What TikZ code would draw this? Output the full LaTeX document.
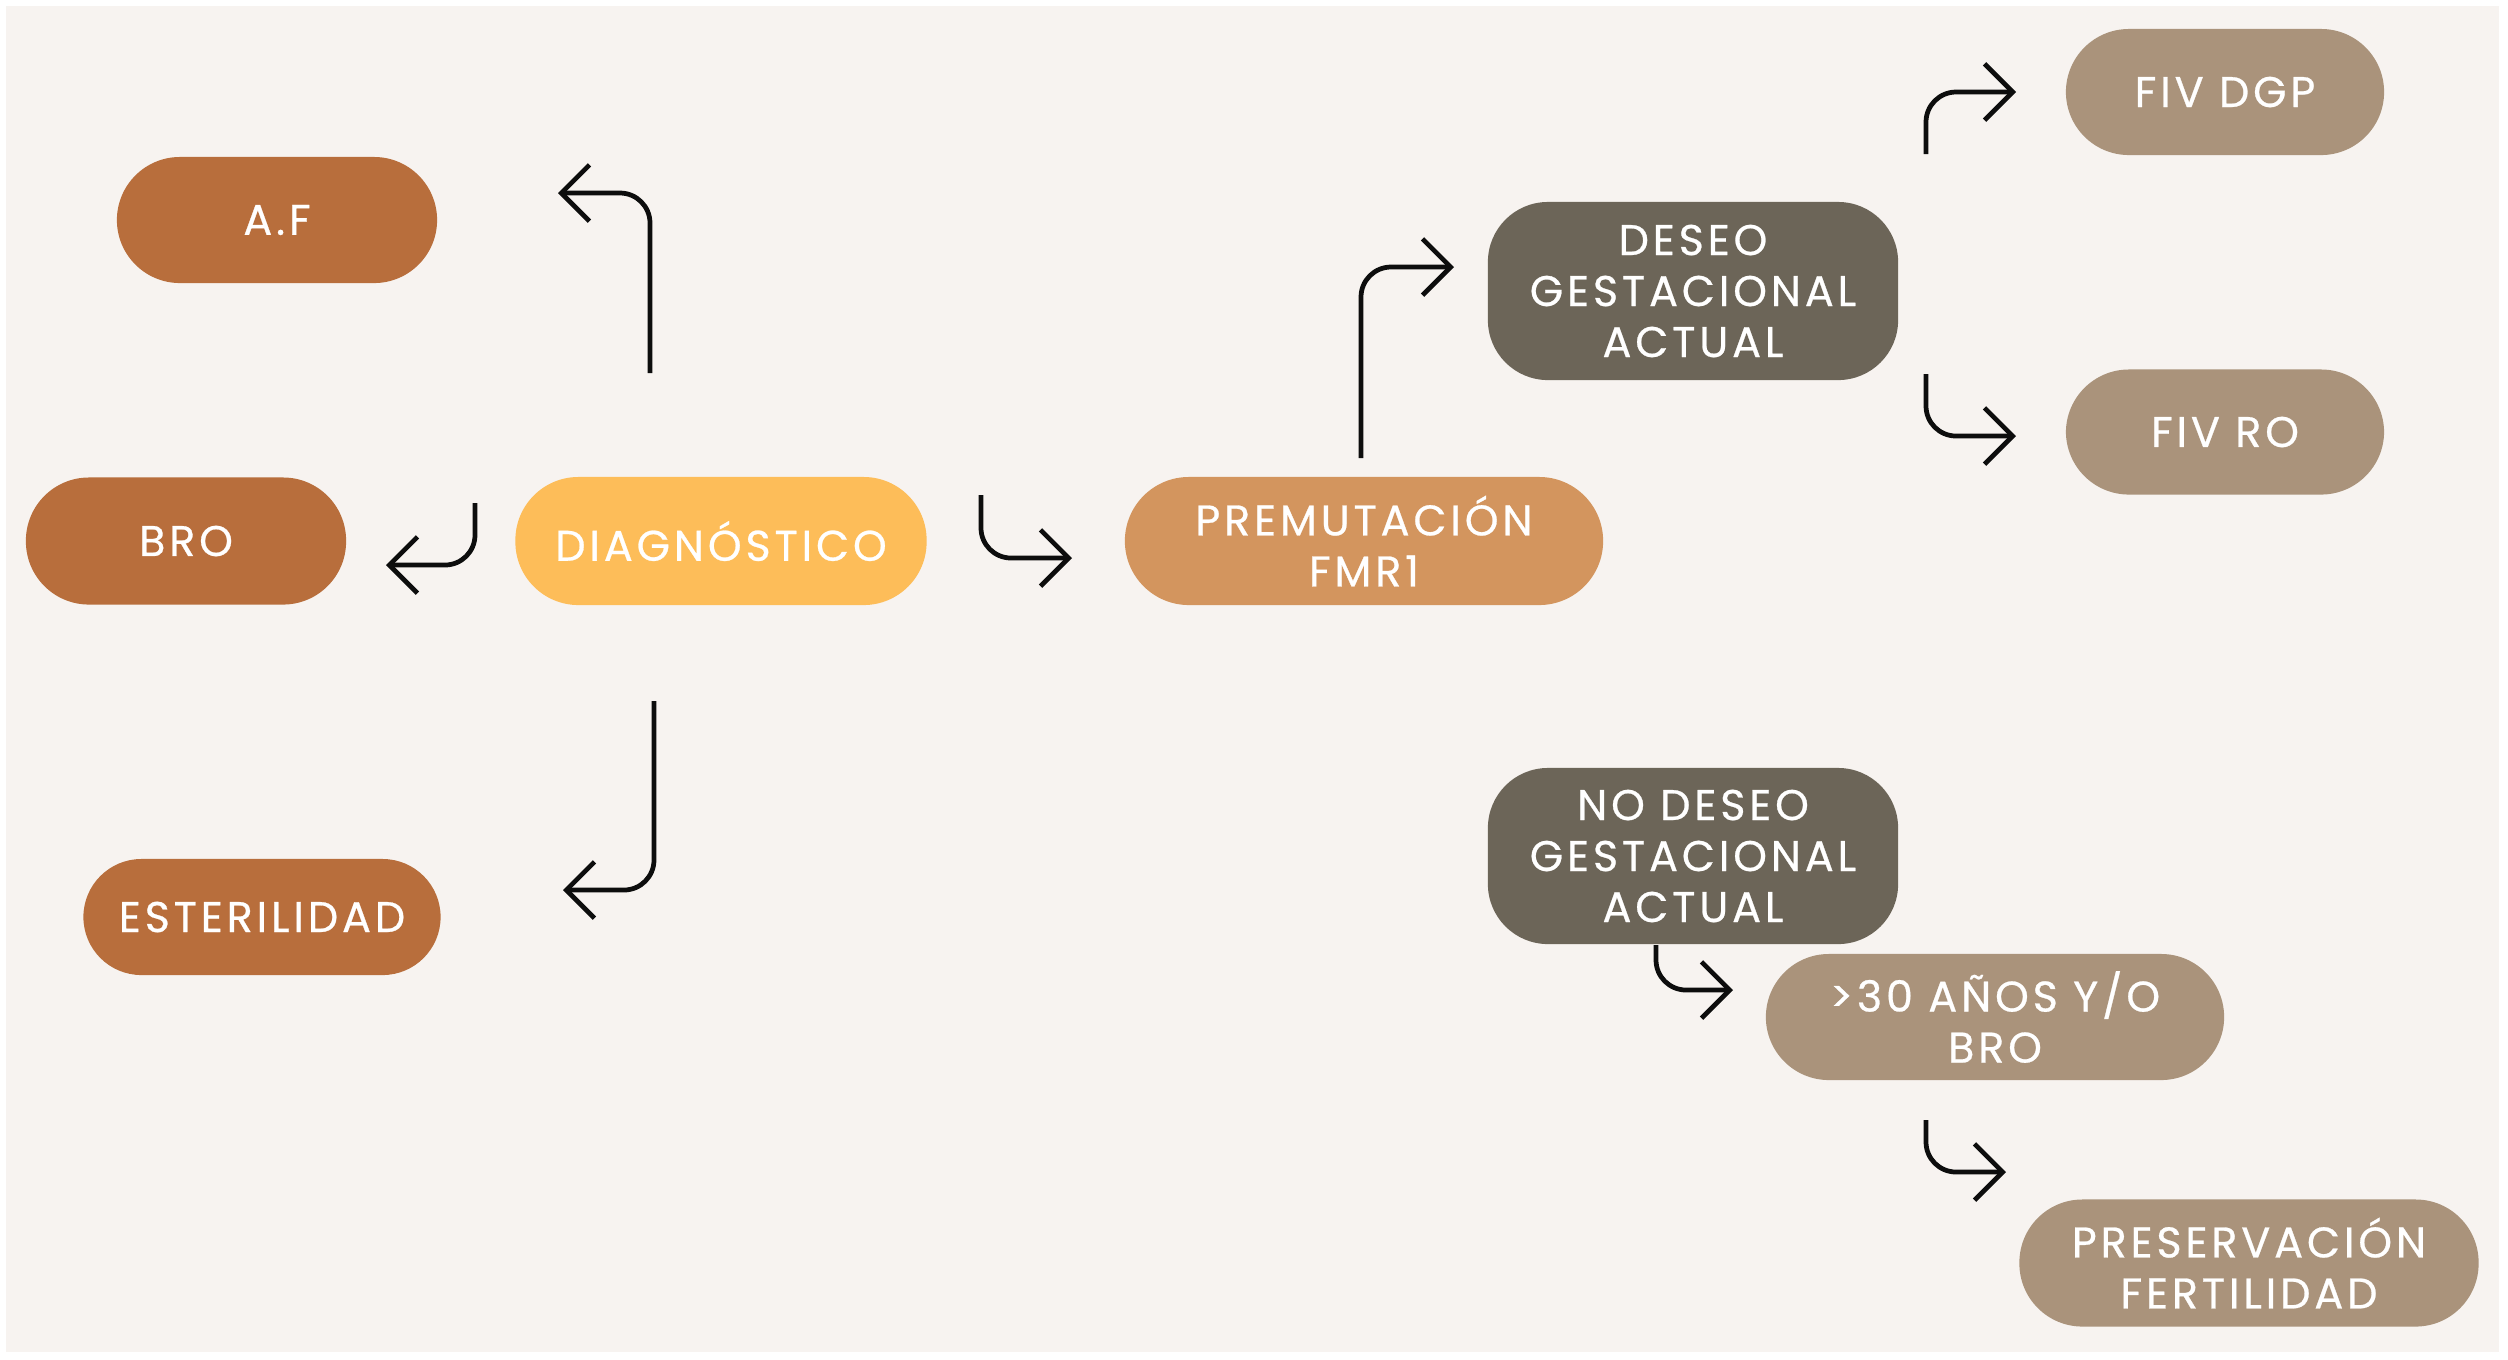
\documentclass[tikz,border=0pt]{standalone}
\usepackage{fontspec}
\setmainfont{Poppins}[LetterSpace=9,FakeBold=0.6]
\usetikzlibrary{arrows.meta}
\definecolor{panelbg}{HTML}{F7F3F0}
\definecolor{rust}{HTML}{B86E3C}
\definecolor{sun}{HTML}{FDBD59}
\definecolor{tan}{HTML}{D3955E}
\definecolor{taupe}{HTML}{6C6558}
\definecolor{sand}{HTML}{AA937B}
\begin{document}
\begin{tikzpicture}[x=0.01cm,y=-0.01cm,
  box/.style={text=white, align=center, inner sep=0pt,
    font=\fontsize{12.2}{14.5}\selectfont, rounded corners=0.63cm},
  tall/.style={box, rounded corners=0.6cm, minimum width=4.1cm, minimum height=1.78cm, fill=taupe},
  conn/.style={line width=1.35pt, draw=black!95, rounded corners=0.3cm,
    -{Straight Barb[length=8pt,width=16pt]}, line join=round}]
\useasboundingbox (0,0) rectangle (2508,1359);
\fill[white] (0,0) rectangle (2508,1359);
\fill[panelbg] (6,6) rectangle (2499,1352);
% nodes
\node[box, fill=rust, minimum width=3.2cm, minimum height=1.26cm] (af) at (277,220) {A.F};
\node[box, fill=rust, minimum width=3.2cm, minimum height=1.27cm] (bro) at (186,541) {BRO};
\node[box, fill=sun, minimum width=4.11cm, minimum height=1.28cm] (diag) at (721,541) {DIAGNÓSTICO};
\node[box, fill=rust, minimum width=3.57cm, minimum height=1.16cm, rounded corners=0.58cm] (est) at (262,917) {ESTERILIDAD};
\node[box, fill=tan, minimum width=4.78cm, minimum height=1.28cm, rounded corners=0.64cm] (prem) at (1364,541) {PREMUTACIÓN\\FMR1};
\node[tall] (deseo) at (1693,291) {DESEO\\GESTACIONAL\\ACTUAL};
\node[box, fill=sand, minimum width=3.18cm, minimum height=1.26cm] (dgp) at (2225,92) {FIV DGP};
\node[box, fill=sand, minimum width=3.18cm, minimum height=1.25cm] (fivro) at (2225,432) {FIV RO};
\node[tall, minimum height=1.76cm] (nodeseo) at (1693,856) {NO DESEO\\GESTACIONAL\\ACTUAL};
\node[box, fill=sand, minimum width=4.58cm, minimum height=1.26cm] (mas) at (1995,1017) {>30 AÑOS Y/O\\BRO};
\node[box, fill=sand, minimum width=4.59cm, minimum height=1.27cm] (pres) at (2249,1263) {PRESERVACIÓN\\FERTILIDAD};
% connector ends
\coordinate (afs) at (650,373);   \coordinate (afe) at (558,193);
\coordinate (bros) at (475,503);  \coordinate (broe) at (386,565);
\coordinate (prs) at (981,495);   \coordinate (pre) at (1072,558);
\coordinate (ests) at (654,701);  \coordinate (este) at (563,890);
\coordinate (des) at (1361,458);  \coordinate (dee) at (1454,267);
\coordinate (dgs) at (1926,154);  \coordinate (dge) at (2016,92);
\coordinate (ros) at (1926,374);  \coordinate (roe) at (2016,436);
\coordinate (mss) at (1656,945);  \coordinate (mse) at (1733,990);
\coordinate (pss) at (1926,1120); \coordinate (pse) at (2006,1172);
% connectors
\draw[conn] (afs) |- (afe);
\draw[conn] (bros) |- (broe);
\draw[conn] (prs) |- (pre);
\draw[conn] (ests) |- (este);
\draw[conn] (des) |- (dee);
\draw[conn] (dgs) |- (dge);
\draw[conn] (ros) |- (roe);
\draw[conn] (mss) |- (mse);
\draw[conn] (pss) |- (pse);
\end{tikzpicture}
\end{document}
